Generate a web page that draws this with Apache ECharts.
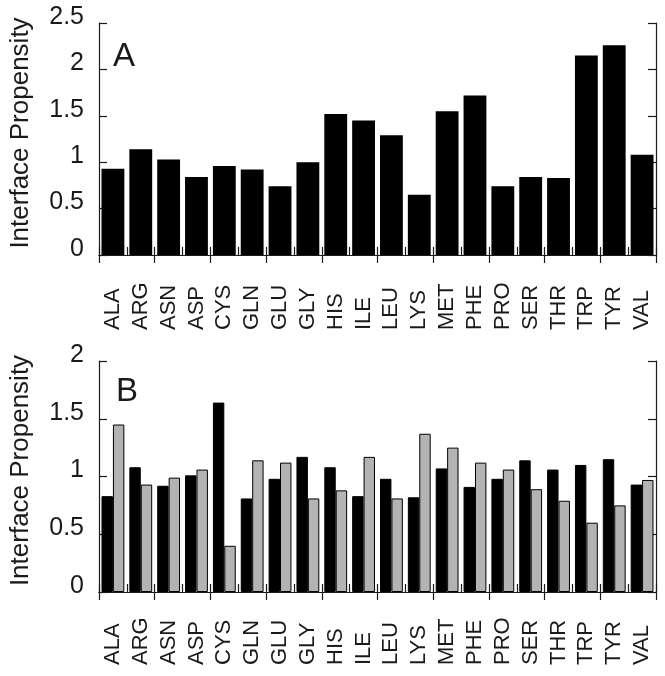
<!DOCTYPE html>
<html>
<head>
<meta charset="utf-8">
<script src="https://cdn.jsdelivr.net/npm/echarts@6/dist/echarts.min.js"></script>
<style>
html,body{margin:0;padding:0;background:#fff;}
#chart{width:665px;height:676px;}
</style>
</head>
<body>
<div id="chart"></div>
<script>
const categories = ["ALA","ARG","ASN","ASP","CYS","GLN","GLU","GLY","HIS","ILE","LEU","LYS","MET","PHE","PRO","SER","THR","TRP","TYR","VAL"];
const propensityA = [0.93,1.14,1.03,0.84,0.96,0.92,0.74,1.00,1.52,1.45,1.29,0.65,1.55,1.72,0.74,0.84,0.83,2.15,2.26,1.08];
const propensityB_black = [0.83,1.08,0.92,1.01,1.64,0.81,0.98,1.17,1.08,0.83,0.98,0.82,1.07,0.91,0.98,1.14,1.06,1.10,1.15,0.93];
const propensityB_gray  = [1.45,0.93,0.99,1.06,0.40,1.14,1.12,0.81,0.88,1.17,0.81,1.37,1.25,1.12,1.06,0.89,0.79,0.60,0.75,0.97];
const yAxisA = {min: 0, max: 2.5, interval: 0.5};
const yAxisB = {min: 0, max: 2, interval: 0.5};
const panelLabels = ["A", "B"];
const yAxisTitle = "Interface Propensity";

const chart = echarts.init(document.getElementById('chart'));
const ink = '#1a1a1a';
const font = 'Liberation Sans, Helvetica, Arial, sans-serif';

function xAxes(gi, margin) {
  return [
    {
      type: 'category', gridIndex: gi, data: categories, position: 'bottom',
      axisLine: {show: true, lineStyle: {color: ink, width: 1.2}},
      axisTick: {show: true, inside: true, length: 8, lineStyle: {color: ink, width: 1.2}},
      axisLabel: {show: true, interval: 0, rotate: 90, align: 'left', verticalAlign: 'middle',
        margin: margin, fontSize: 22, color: ink, fontFamily: font},
      splitLine: {show: false}
    },
    {
      type: 'category', gridIndex: gi, data: categories, position: 'top',
      axisLine: {show: true, lineStyle: {color: ink, width: 1.2}},
      axisTick: {show: true, inside: true, length: 8, lineStyle: {color: ink, width: 1.2}},
      axisLabel: {show: false}, splitLine: {show: false}
    }
  ];
}
function yAxes(gi, cfg) {
  return [
    {
      type: 'value', gridIndex: gi, position: 'left', min: cfg.min, max: cfg.max, interval: cfg.interval,
      name: yAxisTitle, nameLocation: 'middle', nameGap: 65,
      nameTextStyle: {fontSize: 26, color: ink, fontFamily: font, padding: [0, 0, 0, 12]},
      axisLine: {show: true, lineStyle: {color: ink, width: 1.2}},
      axisTick: {show: true, inside: true, length: 8, lineStyle: {color: ink, width: 1.2}},
      axisLabel: {show: true, margin: 15, fontSize: 25, color: ink, fontFamily: font,
        verticalAlign: 'bottom', lineHeight: 12},
      splitLine: {show: false}
    },
    {
      type: 'value', gridIndex: gi, position: 'right', min: cfg.min, max: cfg.max, interval: cfg.interval,
      axisLine: {show: true, lineStyle: {color: ink, width: 1.2}},
      axisTick: {show: true, inside: true, length: 8, lineStyle: {color: ink, width: 1.2}},
      axisLabel: {show: false}, splitLine: {show: false}
    }
  ];
}

const option = {
  animation: false,
  backgroundColor: '#fff',
  grid: [
    {left: 96, right: 9, top: 23, height: 232},
    {left: 96, right: 9, top: 361, height: 231}
  ],
  xAxis: [...xAxes(0, 75), ...xAxes(1, 73)],
  yAxis: [...yAxes(0, yAxisA), ...yAxes(1, yAxisB)],
  graphic: [
    {type: 'text', x: 113, y: 57, style: {text: panelLabels[0], fontSize: 33, fill: ink, fontFamily: font, align: 'left', verticalAlign: 'middle'}},
    {type: 'text', x: 116, y: 392, style: {text: panelLabels[1], fontSize: 33, fill: ink, fontFamily: font, align: 'left', verticalAlign: 'middle'}}
  ],
  series: [
    {
      type: 'bar', xAxisIndex: 0, yAxisIndex: 0, data: propensityA,
      barCategoryGap: '18%',
      itemStyle: {color: '#000', borderColor: '#000', borderWidth: 0}
    },
    {
      type: 'bar', xAxisIndex: 2, yAxisIndex: 2, data: propensityB_black,
      barGap: '0%', barCategoryGap: '18%',
      itemStyle: {color: '#000', borderColor: '#000', borderWidth: 1}
    },
    {
      type: 'bar', xAxisIndex: 2, yAxisIndex: 2, data: propensityB_gray,
      barGap: '0%', barCategoryGap: '18%',
      itemStyle: {color: '#b3b3b3', borderColor: '#000', borderWidth: 1}
    }
  ]
};
chart.setOption(option);
</script>
</body>
</html>
